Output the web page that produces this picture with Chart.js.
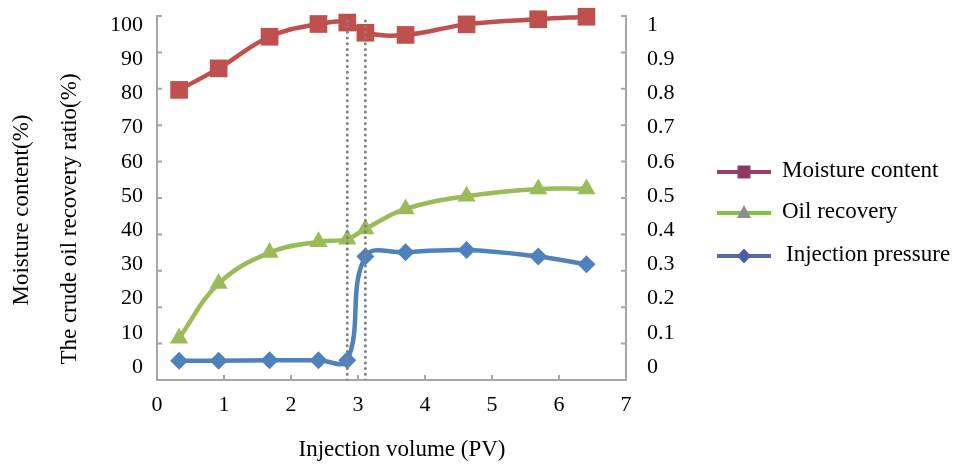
<!DOCTYPE html>
<html>
<head>
<meta charset="utf-8">
<script src="https://cdn.jsdelivr.net/npm/chart.js@4.4.1/dist/chart.umd.min.js"></script>
<style>
  html, body { margin: 0; padding: 0; background: #fff; }
  #wrap { width: 959px; height: 467px; }
</style>
</head>
<body>
<div id="wrap"><canvas id="chart" width="959" height="467"></canvas></div>
<script>
// data
const pv = [0.33, 0.92, 1.68, 2.41, 2.84, 3.11, 3.71, 4.62, 5.69, 6.41];
const moisture = [79.7, 85.6, 94.3, 97.8, 98.2, 95.4, 94.8, 97.7, 99.1, 99.8];
const oilRecovery = [11.5, 26.5, 35.0, 38.0, 38.7, 41.5, 47.0, 50.5, 52.5, 52.5];
const injectionPressure = [0.053, 0.053, 0.054, 0.054, 0.054, 0.339, 0.351, 0.357, 0.339, 0.318];

// the two dotted guide lines go through these points
const guideIdx = [4, 5];

const xTicks = [0, 1, 2, 3, 4, 5, 6, 7];
const leftTicks = [0, 10, 20, 30, 40, 50, 60, 70, 80, 90, 100];
const rightTicks = [0, 0.1, 0.2, 0.3, 0.4, 0.5, 0.6, 0.7, 0.8, 0.9, 1];

const seriesNames = ["Moisture content", "Oil recovery", "Injection pressure"];

const axisGray = "#a6a6a6";
const serif = "'Liberation Serif', 'Times New Roman', serif";
Chart.defaults.font.family = serif;
Chart.defaults.color = "#000";

function pts(ys) {
  return pv.map((x, i) => ({ x: x, y: ys[i] }));
}

function guide(i) {
  return {
    data: [{ x: pv[i], y: 0 }, { x: pv[i], y: 100 }],
    yAxisID: "y",
    borderColor: "#7f7f7f",
    borderWidth: 3,
    borderDash: [0, 5.7],
    borderCapStyle: "round",
    pointRadius: 0,
    tension: 0,
    order: 0
  };
}

// keep tick label overflow from pushing the plot area down
function noPad(s) {
  s.paddingTop = 0;
  s.paddingBottom = 0;
}

// inward tick marks on the three axes
const tickMarks = {
  id: "tickMarks",
  beforeDatasetsDraw(chart) {
    const { ctx, chartArea: a, scales } = chart;
    ctx.save();
    ctx.strokeStyle = axisGray;
    ctx.lineWidth = 2;
    ctx.beginPath();
    leftTicks.forEach(v => {
      const y = scales.y.getPixelForValue(v);
      ctx.moveTo(a.left, y); ctx.lineTo(a.left + 5, y);
    });
    rightTicks.forEach(v => {
      const y = scales.y1.getPixelForValue(v);
      ctx.moveTo(a.right - 5, y); ctx.lineTo(a.right, y);
    });
    xTicks.forEach(v => {
      const x = scales.x.getPixelForValue(v);
      ctx.moveTo(x, a.bottom); ctx.lineTo(x, a.bottom - 5);
    });
    ctx.stroke();
    ctx.restore();
  }
};

// axis titles and the legend on the right
const decorations = {
  id: "decorations",
  afterDraw(chart) {
    const ctx = chart.ctx;
    ctx.save();
    ctx.fillStyle = "#000";
    ctx.font = "23px " + serif;
    ctx.textAlign = "center";
    ctx.textBaseline = "middle";
    ctx.fillText("Injection volume (PV)", 402, 450);

    ctx.save();
    ctx.translate(22, 210);
    ctx.rotate(-Math.PI / 2);
    ctx.fillText("Moisture content(%)", 0, 0);
    ctx.restore();
    ctx.save();
    ctx.translate(70, 219);
    ctx.rotate(-Math.PI / 2);
    ctx.fillText("The crude oil recovery ratio(%)", 0, 0);
    ctx.restore();

    const items = [
      { y: 172, line: "#9e3d6a", mark: "#8e3a65", shape: "square", tx: 782 },
      { y: 213, line: "#80c342", mark: "#8c8c8c", shape: "triangle", tx: 782 },
      { y: 256, line: "#5b6ba8", mark: "#4f5c9e", shape: "diamond", tx: 786 }
    ];
    items.forEach((it, i) => {
      ctx.strokeStyle = it.line;
      ctx.lineWidth = 4;
      ctx.beginPath();
      ctx.moveTo(717, it.y); ctx.lineTo(771, it.y);
      ctx.stroke();
      ctx.fillStyle = it.mark;
      ctx.beginPath();
      const cx = 744, cy = it.y;
      if (it.shape === "square") {
        ctx.rect(cx - 6.5, cy - 6.5, 13, 13);
      } else if (it.shape === "triangle") {
        ctx.moveTo(cx, cy - 8); ctx.lineTo(cx + 7, cy + 5); ctx.lineTo(cx - 7, cy + 5); ctx.closePath();
      } else {
        ctx.moveTo(cx, cy - 7.5); ctx.lineTo(cx + 7, cy); ctx.lineTo(cx, cy + 7.5); ctx.lineTo(cx - 7, cy); ctx.closePath();
      }
      ctx.fill();
      ctx.fillStyle = "#000";
      ctx.textAlign = "left";
      ctx.fillText(seriesNames[i], it.tx, it.y - 1);
    });
    ctx.restore();
  }
};

new Chart(document.getElementById("chart"), {
  type: "line",
  data: {
    datasets: [
      guide(guideIdx[0]),
      guide(guideIdx[1]),
      {
        label: seriesNames[0],
        data: pts(moisture),
        yAxisID: "y",
        borderColor: "#c0504d",
        backgroundColor: "#c0504d",
        borderWidth: 4.5,
        pointStyle: "rect",
        pointRadius: 12.5,
        pointBorderWidth: 0,
        tension: 0.4,
        clip: false,
        order: 1
      },
      {
        label: seriesNames[1],
        data: pts(oilRecovery),
        yAxisID: "y",
        borderColor: "#9bbb59",
        backgroundColor: "#9bbb59",
        borderWidth: 4.5,
        pointStyle: "triangle",
        pointRadius: 10.5,
        pointBorderWidth: 0,
        tension: 0.4,
        clip: false,
        order: 2
      },
      {
        label: seriesNames[2],
        data: pts(injectionPressure),
        yAxisID: "y1",
        borderColor: "#4f81bd",
        backgroundColor: "#4f81bd",
        borderWidth: 4.5,
        pointStyle: "rectRot",
        pointRadius: 9,
        pointBorderWidth: 0,
        tension: 0.4,
        clip: false,
        order: 3
      }
    ]
  },
  options: {
    responsive: false,
    animation: false,
    layout: { padding: { top: 16, left: 0, right: 0, bottom: 0 } },
    plugins: { legend: { display: false }, tooltip: { enabled: false } },
    scales: {
      x: {
        type: "linear",
        min: 0,
        max: 7,
        ticks: { stepSize: 1, padding: 12, font: { size: 22 } },
        grid: { display: false, drawTicks: false },
        border: { display: true, color: axisGray, width: 2 },
        afterFit(s) { s.height = 87; }
      },
      // the tick labels in the picture sit a little off the tick marks,
      // so the labels get their own slightly wider scales
      yLab: {
        type: "linear",
        position: "left",
        bounds: "data",
        min: -3.8,
        max: 102.63,
        ticks: { padding: 14, font: { size: 22 } },
        afterBuildTicks(s) { s.ticks = leftTicks.map(v => ({ value: v })); },
        grid: { drawOnChartArea: false, drawTicks: false },
        border: { display: true, color: axisGray, width: 2 },
        afterFit(s) { s.width = 157; noPad(s); }
      },
      y1Lab: {
        type: "linear",
        position: "right",
        bounds: "data",
        min: -0.038,
        max: 1.0263,
        ticks: {
          padding: 21,
          font: { size: 22 },
          callback: v => String(Math.round(v * 10) / 10)
        },
        afterBuildTicks(s) { s.ticks = rightTicks.map(v => ({ value: v })); },
        grid: { drawOnChartArea: false, drawTicks: false },
        border: { display: true, color: axisGray, width: 2 },
        afterFit(s) { s.width = 333; noPad(s); }
      },
      y: { type: "linear", display: false, min: 0, max: 100 },
      y1: { type: "linear", display: false, position: "right", min: 0, max: 1 }
    }
  },
  plugins: [tickMarks, decorations]
});
</script>
</body>
</html>
